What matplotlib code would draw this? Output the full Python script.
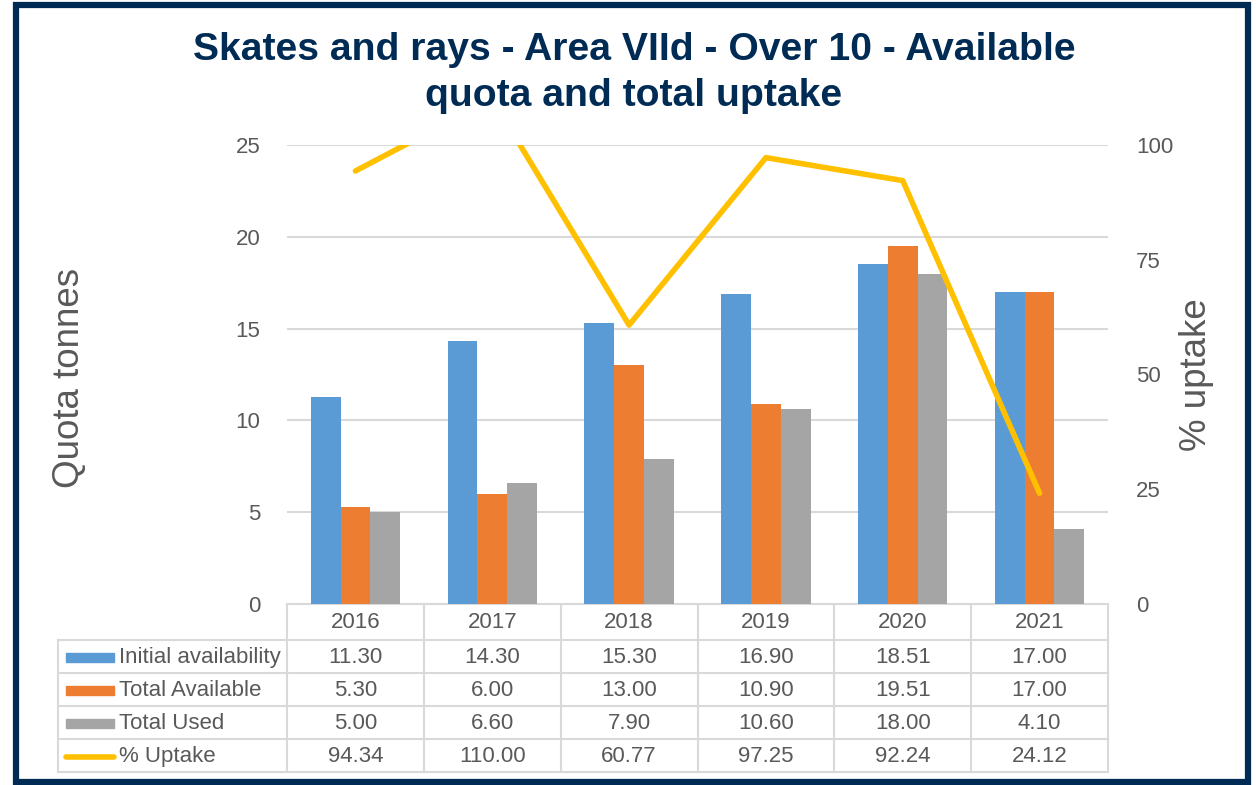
import numpy as np
import matplotlib.pyplot as plt
from matplotlib.patches import Rectangle

years = ["2016", "2017", "2018", "2019", "2020", "2021"]
initial = [11.30, 14.30, 15.30, 16.90, 18.51, 17.00]
available = [5.30, 6.00, 13.00, 10.90, 19.51, 17.00]
used = [5.00, 6.60, 7.90, 10.60, 18.00, 4.10]
uptake = [94.34, 110.00, 60.77, 97.25, 92.24, 24.12]

series_names = ["Initial availability", "Total Available", "Total Used", "% Uptake"]
colors = ["#5B9BD5", "#ED7D31", "#A5A5A5", "#FFC000"]
navy = "#002B54"
txt = "#595959"
grid = "#D9D9D9"
fs = 16

plt.rcParams['font.family'] = ['Liberation Sans', 'DejaVu Sans']

W, H = 1256, 785
fig = plt.figure(figsize=(W / 100, H / 100), dpi=100)

# plot area in pixels
L, R, T, B = 287, 1108, 145, 604
ax = fig.add_axes([L / W, 1 - B / H, (R - L) / W, (B - T) / H])
x = np.arange(len(years))
bw = 0.218
for i, vals in enumerate([initial, available, used]):
    ax.bar(x + (i - 1) * bw, vals, bw, color=colors[i], zorder=3)
ax.set_xlim(-0.5, len(years) - 0.5)
ax.set_ylim(0, 25)
ax.set_yticks([0, 5, 10, 15, 20, 25])
ax.yaxis.grid(True, color=grid, lw=1.5, zorder=0)
ax.set_xticks([])
for s in ax.spines.values():
    s.set_visible(False)
ax.tick_params(axis='y', length=0, labelsize=fs, labelcolor=txt, pad=19)

ax2 = ax.twinx()
ax2.plot(x, uptake, color=colors[3], lw=4, solid_capstyle='round', zorder=4)
ax2.set_ylim(0, 100)
ax2.set_yticks([0, 25, 50, 75, 100])
for s in ax2.spines.values():
    s.set_visible(False)
ax2.tick_params(axis='y', length=0, labelsize=fs, labelcolor=txt, pad=20)

fig.text(70 / W, 1 - 378 / H, "Quota tonnes", rotation=90, ha='center', va='center',
         fontsize=26.5, color=txt)
fig.text(1197 / W, 1 - 375 / H, "% uptake", rotation=90, ha='center', va='center',
         fontsize=26.5, color=txt)

# overlay for table, title, frame
ov = fig.add_axes([0, 0, 1, 1], zorder=-1)
ov.set_xlim(0, W)
ov.set_ylim(H, 0)
ov.axis('off')

cw = (R - L) / len(years)
rows_y = [604, 640, 673, 706, 739, 772]
lab_x0 = 58
# horizontal lines
ov.plot([L, R], [rows_y[0], rows_y[0]], color=grid, lw=1.5)
for yy in rows_y[1:]:
    ov.plot([lab_x0, R], [yy, yy], color=grid, lw=1.5)
# vertical lines
ov.plot([lab_x0, lab_x0], [rows_y[1], rows_y[-1]], color=grid, lw=1.5)
for j in range(len(years) + 1):
    ov.plot([L + j * cw, L + j * cw], [rows_y[0], rows_y[-1]], color=grid, lw=1.5)
for j, yr in enumerate(years):
    ov.text(L + (j + 0.5) * cw, (rows_y[0] + rows_y[1]) / 2 + 1, yr, ha='center', va='center',
            fontsize=fs, color=txt)
table_vals = [initial, available, used, uptake]
for r, (name, vals) in enumerate(zip(series_names, table_vals)):
    yc = (rows_y[r + 1] + rows_y[r + 2]) / 2 + 1
    if r < 3:
        ov.add_patch(Rectangle((66, yc - 4.5), 48, 9, color=colors[r]))
    else:
        ov.plot([66, 114], [yc, yc], color=colors[r], lw=4, solid_capstyle='round')
    ov.text(119, yc, name, ha='left', va='center', fontsize=fs, color=txt)
    for j, v in enumerate(vals):
        ov.text(L + (j + 0.5) * cw, yc, f"{v:.2f}", ha='center', va='center',
                fontsize=fs, color=txt)

ov.text(634, 50, "Skates and rays - Area VIId - Over 10 - Available", ha='center',
        va='center', fontsize=28.2, fontweight='bold', color=navy)
ov.text(634, 96, "quota and total uptake", ha='center', va='center', fontsize=28.2,
        fontweight='bold', color=navy)

ov.add_patch(Rectangle((16, 5), 1232, 777, fill=False, ec=navy, lw=4.5))

fig.savefig("out.png", dpi=100)
